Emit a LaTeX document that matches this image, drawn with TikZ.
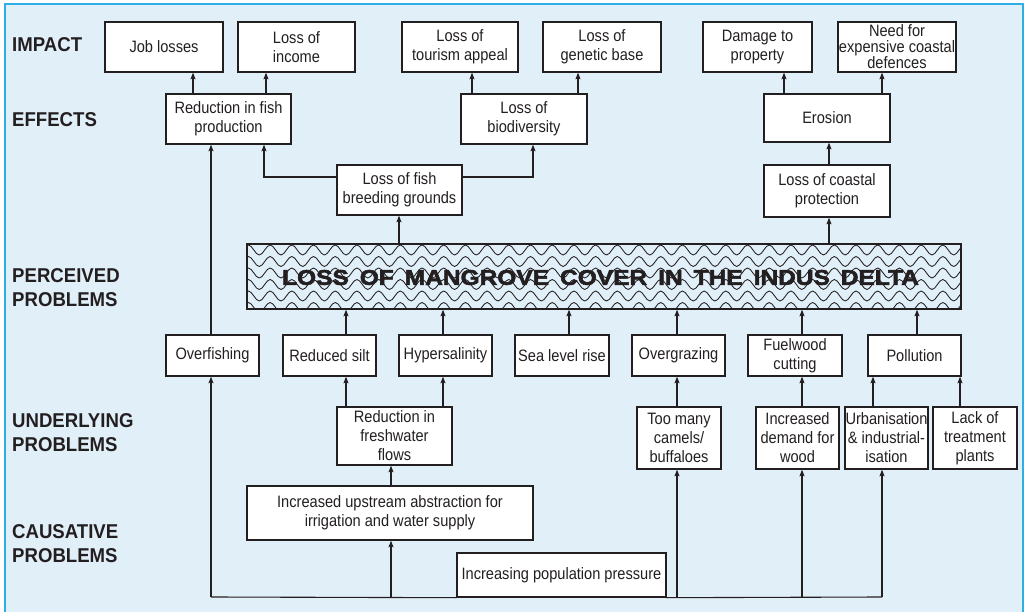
\documentclass[tikz,border=0pt]{standalone}
\usepackage{fontspec}
\setmainfont{Liberation Sans}[FakeStretch=0.885]
\newfontfamily\lblfont{Liberation Sans}[FakeStretch=0.93]
\newfontfamily\ttlfont{Liberation Sans}[FakeStretch=1.15, FakeBold=2.6]
\usetikzlibrary{arrows.meta}
\definecolor{bgblue}{HTML}{E1EFF9}
\definecolor{frameblue}{HTML}{2FAEE3}
\definecolor{ink}{HTML}{231F20}
\newcommand\mangrovetext{{\spaceskip=11pt\relax LOSS OF MANGROVE COVER IN THE INDUS DELTA}}
\begin{document}
\begin{tikzpicture}[x=1pt,y=-1pt,
  box/.style={draw=ink, fill=white, line width=1.4pt, inner sep=0pt, align=center,
    font=\fontsize{16.5}{19}\selectfont, text=ink},
  arr/.style={draw=ink, line width=1.1pt, -{Stealth[length=6.5pt,width=5pt,inset=1.2pt]}},
  conn/.style={draw=ink, line width=1.1pt},
  lbl/.style={anchor=west, align=left, inner sep=0pt,
    font=\lblfont\bfseries\fontsize{20}{24}\selectfont, text=ink},
  ttl/.style={inner sep=0pt, font=\ttlfont\bfseries\fontsize{21.3}{24}\selectfont},
  wave/.style={draw=ink, line width=0.85pt}
]
\useasboundingbox (0,0) rectangle (1026,612);
\fill[bgblue] (5,4) rectangle (1023,620);
\draw[frameblue, line width=1.6pt] (5,620) -- (5,4) -- (1023,4) -- (1023,620);

% side labels
\node[lbl] (lImpact) at (12,45) {IMPACT};
\node[lbl] (lEffects) at (12,120) {EFFECTS};
\node[lbl] (lPerc) at (12,287.5) {PERCEIVED\\PROBLEMS};
\node[lbl] (lUnder) at (12,432.5) {UNDERLYING\\PROBLEMS};
\node[lbl] (lCaus) at (12,544) {CAUSATIVE\\PROBLEMS};

% impact row
\node[box, minimum width=118pt, minimum height=50pt] (job) at (164,47) {Job losses};
\node[box, minimum width=117pt, minimum height=50pt] (income) at (296.5,47) {Loss of\\income};
\node[box, minimum width=116pt, minimum height=50pt] (tourism) at (460,47) {Loss of\\tourism appeal};
\node[box, minimum width=118pt, minimum height=50pt] (genetic) at (602,47) {Loss of\\genetic base};
\node[box, minimum width=109pt, minimum height=50pt] (damage) at (757.5,47) {Damage to\\property};
\node[box, minimum width=118pt, minimum height=50pt, font=\fontsize{16.5}{16}\selectfont] (need) at (897,47) {Need for\\expensive coastal\\defences};

% effects row
\node[box, minimum width=125pt, minimum height=50pt] (redfish) at (228.5,119) {Reduction in fish\\production};
\node[box, minimum width=126pt, minimum height=50pt] (biodiv) at (524,119) {Loss of\\biodiversity};
\node[box, minimum width=126pt, minimum height=48pt] (erosion) at (827,118) {Erosion};
\node[box, minimum width=125pt, minimum height=50pt] (breeding) at (399.5,190) {Loss of fish\\breeding grounds};
\node[box, minimum width=126pt, minimum height=52pt] (coastal) at (827,191) {Loss of coastal\\protection};

% mangrove box
\node[draw=ink, fill=bgblue, line width=1.4pt, inner sep=0pt, minimum width=714pt, minimum height=65pt] (mangrove) at (604,276.5) {};
\begin{scope}
  \clip (mangrove.south west) rectangle (mangrove.north east);
  \foreach \r in {0,...,5} {
    \draw[wave] (243,250+\r*11.5) \foreach \k in {1,...,34} { sin ++(5.425,-5) cos ++(5.425,5) sin ++(5.425,5) cos ++(5.425,-5) };
  }
\end{scope}
\node[ttl, text=ink] (title) at (600.5,277.5) {\mangrovetext};
\draw[ink, line width=1.4pt] (mangrove.south west) rectangle (mangrove.north east);

% perceived row
\node[box, minimum width=93pt, minimum height=41pt] (overfish) at (212.5,355.5) {Overfishing};
\node[box, minimum width=93pt, minimum height=41pt] (silt) at (329.5,355.5) {Reduced silt};
\node[box, minimum width=93pt, minimum height=41pt] (hyper) at (445.5,355.5) {Hypersalinity};
\node[box, minimum width=94pt, minimum height=41pt] (sealevel) at (562,355.5) {Sea level rise};
\node[box, minimum width=93pt, minimum height=41pt] (overgraze) at (678.5,355.5) {Overgrazing};
\node[box, minimum width=94pt, minimum height=41pt] (fuelwood) at (795,355.5) {Fuelwood\\cutting};
\node[box, minimum width=93pt, minimum height=41pt] (pollution) at (914.5,355.5) {Pollution};

% underlying row
\node[box, minimum width=115pt, minimum height=58pt] (fresh) at (394.5,436) {Reduction in\\freshwater\\flows};
\node[box, minimum width=84pt, minimum height=62pt] (camels) at (679,438) {Too many\\camels/\\buffaloes};
\node[box, minimum width=83pt, minimum height=62pt] (wood) at (797.5,438) {Increased\\demand for\\wood};
\node[box, minimum width=83pt, minimum height=62pt] (urban) at (886.5,438) {Urbanisation\\\& industrial-\\isation};
\node[box, minimum width=84pt, minimum height=62pt] (lack) at (975,438) {Lack of\\treatment\\plants};

% causative row
\node[box, minimum width=286pt, minimum height=54pt] (abstraction) at (390,513) {Increased upstream abstraction for\\irrigation and water supply};
\node[box, minimum width=209pt, minimum height=44pt] (population) at (561.5,575) {Increasing population pressure};

% population connectors
\coordinate (b1) at (211,597);
\coordinate (b2) at (391,597);
\coordinate (b3) at (677,597);
\coordinate (b4) at (802,597);
\coordinate (b5) at (882,597);
\draw[conn] (population.south west) -- (b1);
\draw[conn] (population.south east) -- (b5);
\draw[arr] (b1) -- (b1 |- overfish.south);
\draw[arr] (b2) -- (b2 |- abstraction.south);
\draw[arr] (b3) -- (b3 |- camels.south);
\draw[arr] (b4) -- (b4 |- wood.south);
\draw[arr] (b5) -- (b5 |- urban.south);

% causative/underlying to perceived
\draw[arr] (abstraction.north -| 391,0) -- (fresh.south -| 391,0);
\draw[arr] (fresh.north -| 346,0) -- (silt.south -| 346,0);
\draw[arr] (fresh.north -| 443,0) -- (hyper.south -| 443,0);
\draw[arr] (camels.north -| 677,0) -- (overgraze.south -| 677,0);
\draw[arr] (wood.north -| 802,0) -- (fuelwood.south -| 802,0);
\draw[arr] (urban.north -| 873,0) -- (pollution.south -| 873,0);
\draw[arr] (lack.north -| 960,0) -- (pollution.south -| 960,0);

% perceived to mangrove
\draw[arr] (silt.north -| 346,0) -- (mangrove.south -| 346,0);
\draw[arr] (hyper.north -| 443,0) -- (mangrove.south -| 443,0);
\draw[arr] (sealevel.north -| 569,0) -- (mangrove.south -| 569,0);
\draw[arr] (overgraze.north -| 677,0) -- (mangrove.south -| 677,0);
\draw[arr] (fuelwood.north -| 802,0) -- (mangrove.south -| 802,0);
\draw[arr] (pollution.north -| 917,0) -- (mangrove.south -| 917,0);
\draw[arr] (overfish.north -| 211,0) -- (redfish.south -| 211,0);

% mangrove upward
\draw[arr] (mangrove.north -| 399,0) -- (breeding.south -| 399,0);
\draw[arr] (mangrove.north -| 829,0) -- (coastal.south -| 829,0);
\draw[arr] (coastal.north -| 829,0) -- (erosion.south -| 829,0);
\draw[arr] (breeding.west |- 0,177) -| (redfish.south -| 264,0);
\draw[arr] (breeding.east |- 0,177) -| (biodiv.south -| 533,0);

% effects to impact
\draw[arr] (redfish.north -| 193,0) -- (job.south -| 193,0);
\draw[arr] (redfish.north -| 266,0) -- (income.south -| 266,0);
\draw[arr] (biodiv.north -| 472,0) -- (tourism.south -| 472,0);
\draw[arr] (biodiv.north -| 578,0) -- (genetic.south -| 578,0);
\draw[arr] (erosion.north -| 784,0) -- (damage.south -| 784,0);
\draw[arr] (erosion.north -| 882,0) -- (need.south -| 882,0);
\end{tikzpicture}
\end{document}
